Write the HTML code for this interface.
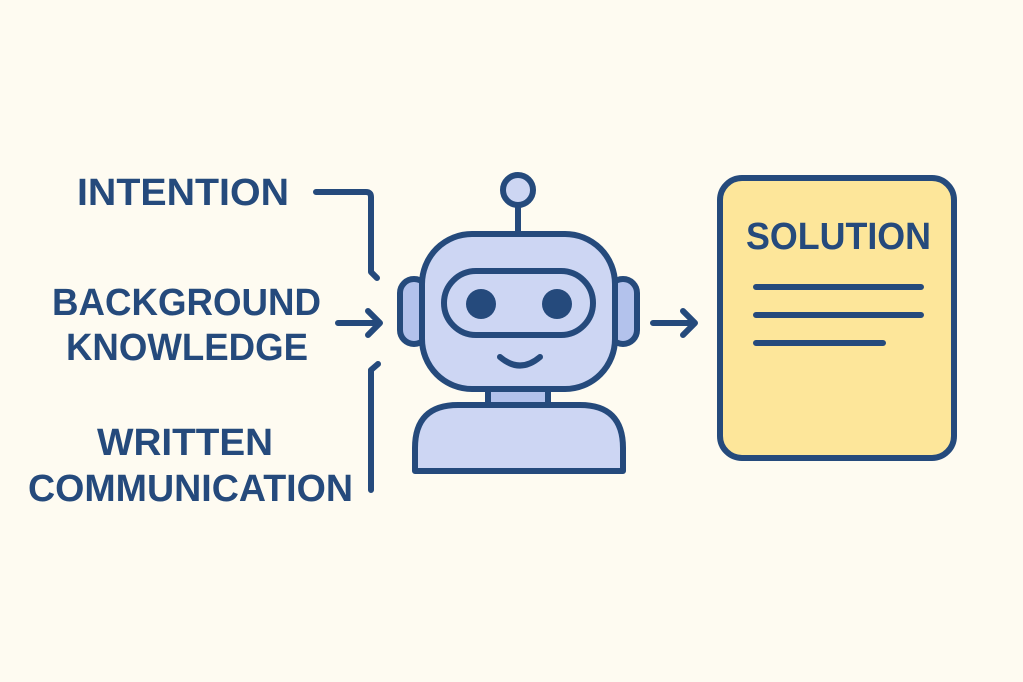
<!DOCTYPE html>
<html><head><meta charset="utf-8"><style>
html,body{margin:0;padding:0;background:#fefbf1;}
svg{display:block}
text{font-family:"Liberation Sans",sans-serif;font-weight:bold;fill:#254a7c;}
</style></head><body>
<svg width="1023" height="682" viewBox="0 0 1023 682" xmlns="http://www.w3.org/2000/svg">
<rect width="1023" height="682" fill="#fefbf1"/>
<g fill="none" stroke="#254a7c" stroke-width="6" stroke-linecap="round" stroke-linejoin="round">
<path d="M316 192 H366 Q371 192 371 197 V272 L377 278"/>
<path d="M371 490 V370 L378 364"/>
<path d="M338 323 H380 M368 311 L380 323 L368 335"/>
<path d="M653 323 H695 M683 311 L695 323 L683 335"/>
<line x1="518" y1="206" x2="518" y2="232"/>
<circle cx="518" cy="190" r="15" fill="#cdd6f3"/>
<rect x="400" y="279" width="28" height="65" rx="14" fill="#b3c2ec"/>
<rect x="609" y="279" width="28" height="65" rx="14" fill="#b3c2ec"/>
<rect x="488" y="385" width="60" height="20" fill="#b3c2ec"/>
<path d="M415 471 V448 Q415 405 458 405 H580 Q623 405 623 448 V471 Z" fill="#cdd6f3"/>
<rect x="422" y="234" width="193" height="155" rx="50" fill="#cdd6f3"/>
<rect x="444" y="271" width="149" height="64" rx="32" fill="#cdd6f3"/>
<path d="M500 357 Q520 374 540 357"/>
<rect x="720" y="178" width="234" height="280" rx="22" fill="#fde69a"/>
<path d="M756 287 H921 M756 315 H921 M756 343 H883"/>
</g>
<circle cx="481" cy="304" r="15" fill="#254a7c"/>
<circle cx="557" cy="304" r="15" fill="#254a7c"/>
<g font-size="38">
<text x="77" y="205" textLength="212" lengthAdjust="spacingAndGlyphs">INTENTION</text>
<text x="52" y="315" textLength="269" lengthAdjust="spacingAndGlyphs">BACKGROUND</text>
<text x="66" y="360" textLength="242" lengthAdjust="spacingAndGlyphs">KNOWLEDGE</text>
<text x="97" y="455" textLength="176" lengthAdjust="spacingAndGlyphs">WRITTEN</text>
<text x="28" y="501" textLength="325" lengthAdjust="spacingAndGlyphs">COMMUNICATION</text>
<text x="746" y="249" textLength="185" lengthAdjust="spacingAndGlyphs">SOLUTION</text>
</g>
</svg>
</body></html>
